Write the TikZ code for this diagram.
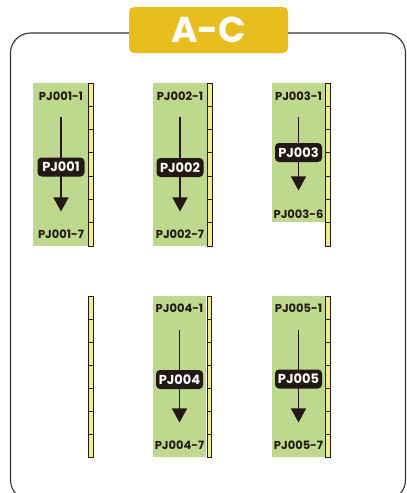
\documentclass[tikz,border=0pt]{standalone}
\usepackage{fontspec}
\newfontfamily\pop{Poppins}
\usetikzlibrary{arrows.meta}
\definecolor{pjgreen}{RGB}{190,217,141}
\definecolor{rulery}{RGB}{240,238,140}
\definecolor{tabyel}{RGB}{232,190,30}
\definecolor{ink}{RGB}{35,24,21}
\definecolor{framec}{RGB}{50,50,50}
\tikzset{
  frame/.style={draw=framec,line width=1.1pt,rounded corners=20pt},
  tab/.style={fill=tabyel,rounded corners=5pt,minimum width=159pt,minimum height=46pt,inner sep=0pt,
    text=white,font=\pop\bfseries\fontsize{36}{36}\selectfont},
  greenbox/.style={fill=pjgreen,draw=none,anchor=north west,inner sep=0pt},
  lab/.style={text=ink,font=\pop\bfseries\fontsize{11.5}{12}\selectfont,inner sep=0pt},
  pjbox/.style={fill=ink,text=white,rounded corners=4pt,minimum width=47pt,minimum height=19pt,inner sep=0pt,
    font=\pop\bfseries\fontsize{13}{13}\selectfont},
  arr/.style={draw=ink,line width=1.4pt,-{Triangle[width=15pt,length=14pt]}},
  rulerbox/.style={fill=rulery,draw=ink,line width=0.9pt},
  rulertick/.style={draw=ink,line width=0.9pt}
}
\begin{document}
\begin{tikzpicture}[x=1pt,y=-1pt]
\useasboundingbox (0,0) rectangle (407,493);
% frame
\draw[frame] (10.5,33) rectangle (405.5,500);
% title tab
\node[tab] (tab) at (208.5,30) {A-C};

% green columns
\node[greenbox,minimum width=55pt,minimum height=163pt] (g1) at (33,83) {};
\node[greenbox,minimum width=54pt,minimum height=163pt] (g2) at (153,83) {};
\node[greenbox,minimum width=53pt,minimum height=139pt] (g3) at (272,83) {};
\node[greenbox,minimum width=53pt,minimum height=161pt] (g4) at (153,296) {};
\node[greenbox,minimum width=53pt,minimum height=161pt] (g5) at (272,296) {};

% rulers
\foreach \x/\yt/\yb in {88.5/83/246, 207.5/83/246, 325.5/83/246, 88.5/296/457, 207/296/457, 325.5/296/457}{
  \draw[rulerbox] (\x,\yt) rectangle ++(4.5,\yb-\yt);
  \foreach \k in {1,...,6}{
    \draw[rulertick] (\x,{\yt+\k*(\yb-\yt)/7}) -- ++(4.5,0);
  }
}

% labels
\node[lab] (t1) at (61,96) {PJ001-1};
\node[lab] (b1) at (61,234) {PJ001-7};
\node[lab] (t2) at (180,96) {PJ002-1};
\node[lab] (b2) at (180,234) {PJ002-7};
\node[lab] (t3) at (298.5,96) {PJ003-1};
\node[lab] (b3) at (298.5,214) {PJ003-6};
\node[lab] (t4) at (179.5,308) {PJ004-1};
\node[lab] (b4) at (179.5,445) {PJ004-7};
\node[lab] (t5) at (298.5,308) {PJ005-1};
\node[lab] (b5) at (298.5,445) {PJ005-7};

% arrows
\draw[arr,shorten <=16pt,shorten >=18pt] (t1) -- (b1);
\draw[arr,shorten <=16pt,shorten >=18pt] (t2) -- (b2);
\draw[arr,shorten <=16pt,shorten >=19pt] (t3) -- (b3);
\draw[arr,shorten <=17pt,shorten >=18pt] (t4) -- (b4);
\draw[arr,shorten <=17pt,shorten >=18pt] (t5) -- (b5);

% boxes
\node[pjbox] (p1) at (61,167) {PJ001};
\node[pjbox] (p2) at (180,167.5) {PJ002};
\node[pjbox] (p3) at (298.5,152.5) {PJ003};
\node[pjbox] (p4) at (179.5,379.5) {PJ004};
\node[pjbox] (p5) at (298.5,379) {PJ005};
\end{tikzpicture}
\end{document}
